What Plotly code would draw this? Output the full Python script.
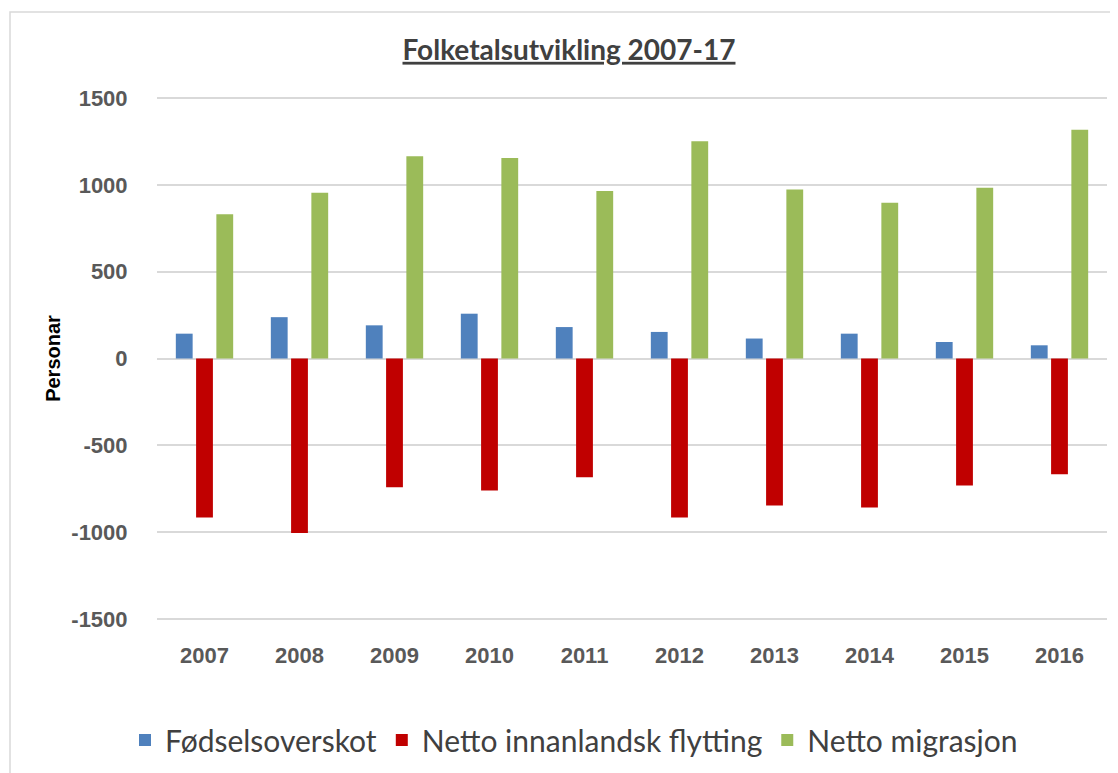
import plotly.graph_objects as go

years = ["2007", "2008", "2009", "2010", "2011", "2012", "2013", "2014", "2015", "2016"]
fodselsoverskot = [143, 238, 191, 258, 181, 153, 115, 143, 95, 76]
innanlandsk = [-915, -1005, -742, -760, -684, -915, -846, -858, -732, -667]
migrasjon = [831, 955, 1165, 1155, 965, 1251, 974, 897, 983, 1318]
y_ticks = [-1500, -1000, -500, 0, 500, 1000, 1500]
y_tick_labels = [str(v) for v in y_ticks]

# the page body has an 8px margin, so the figure is drawn 8px smaller
OFF = 8
W, H = 1118 - OFF, 773 - OFF
ML, MR, MT, MB = 157 - OFF, 11, 97 - OFF, 153
pw, ph = W - ML - MR, H - MT - MB
plot_bottom = H - MB

fig = go.Figure()
fig.add_trace(go.Bar(name="Fødselsoverskot", x=years, y=fodselsoverskot,
                     marker=dict(color="#4F81BD", line=dict(width=0))))
fig.add_trace(go.Bar(name="Netto innanlandsk flytting", x=years, y=innanlandsk,
                     marker=dict(color="#C00000", line=dict(width=0))))
fig.add_trace(go.Bar(name="Netto migrasjon", x=years, y=migrasjon,
                     marker=dict(color="#9BBB59", line=dict(width=0))))

fig.update_layout(
    width=W, height=H,
    margin=dict(l=ML, r=MR, t=MT, b=MB, autoexpand=False),
    paper_bgcolor="white", plot_bgcolor="white",
    barmode="group", bargap=0.36, bargroupgap=0.17,
    title=dict(text="<u>Folketalsutvikling 2007-17</u>", xref="container", x=(569 - OFF) / W,
               xanchor="center",
               yref="container", y=1 - (50 - OFF) / H, yanchor="middle",
               font=dict(family="Lato", size=28, color="#404040", weight="bold")),
    font=dict(family="Arial", color="#595959"),
    xaxis=dict(showgrid=False, showline=False, zeroline=False,
               ticks="outside", ticklen=16, tickcolor="rgba(0,0,0,0)",
               tickfont=dict(family="Arial", size=22, color="#595959", weight="bold")),
    yaxis=dict(range=[-1506, 1506], tickvals=y_ticks, ticktext=y_tick_labels,
               showgrid=True, gridcolor="#D9D9D9", gridwidth=1.5,
               zeroline=True, zerolinecolor="#D9D9D9", zerolinewidth=1.5,
               showline=False,
               ticks="outside", ticklen=24, tickcolor="rgba(0,0,0,0)",
               tickfont=dict(family="Arial", size=22, color="#595959", weight="bold"),
               title=dict(text="Personar", standoff=5,
                          font=dict(family="Arial", size=20, color="#000000", weight="bold"))),
    legend=dict(orientation="h", xref="container", x=(574 - OFF) / W, xanchor="center",
                yref="container", y=(773 - 740) / H, yanchor="middle",
                font=dict(family="Lato", size=30, color="#404040"),
                itemsizing="constant", traceorder="normal"),
    showlegend=True,
)

# outer chart border
fig.add_shape(type="rect", xref="paper", yref="paper",
              x0=(10 - OFF - ML) / pw, x1=(W + 20 - ML) / pw,
              y0=(plot_bottom - (H + 20)) / ph, y1=(plot_bottom - (12 - OFF)) / ph,
              line=dict(color="#D9D9D9", width=1.5), fillcolor="rgba(0,0,0,0)",
              layer="below")

fig.write_html("out.html")
